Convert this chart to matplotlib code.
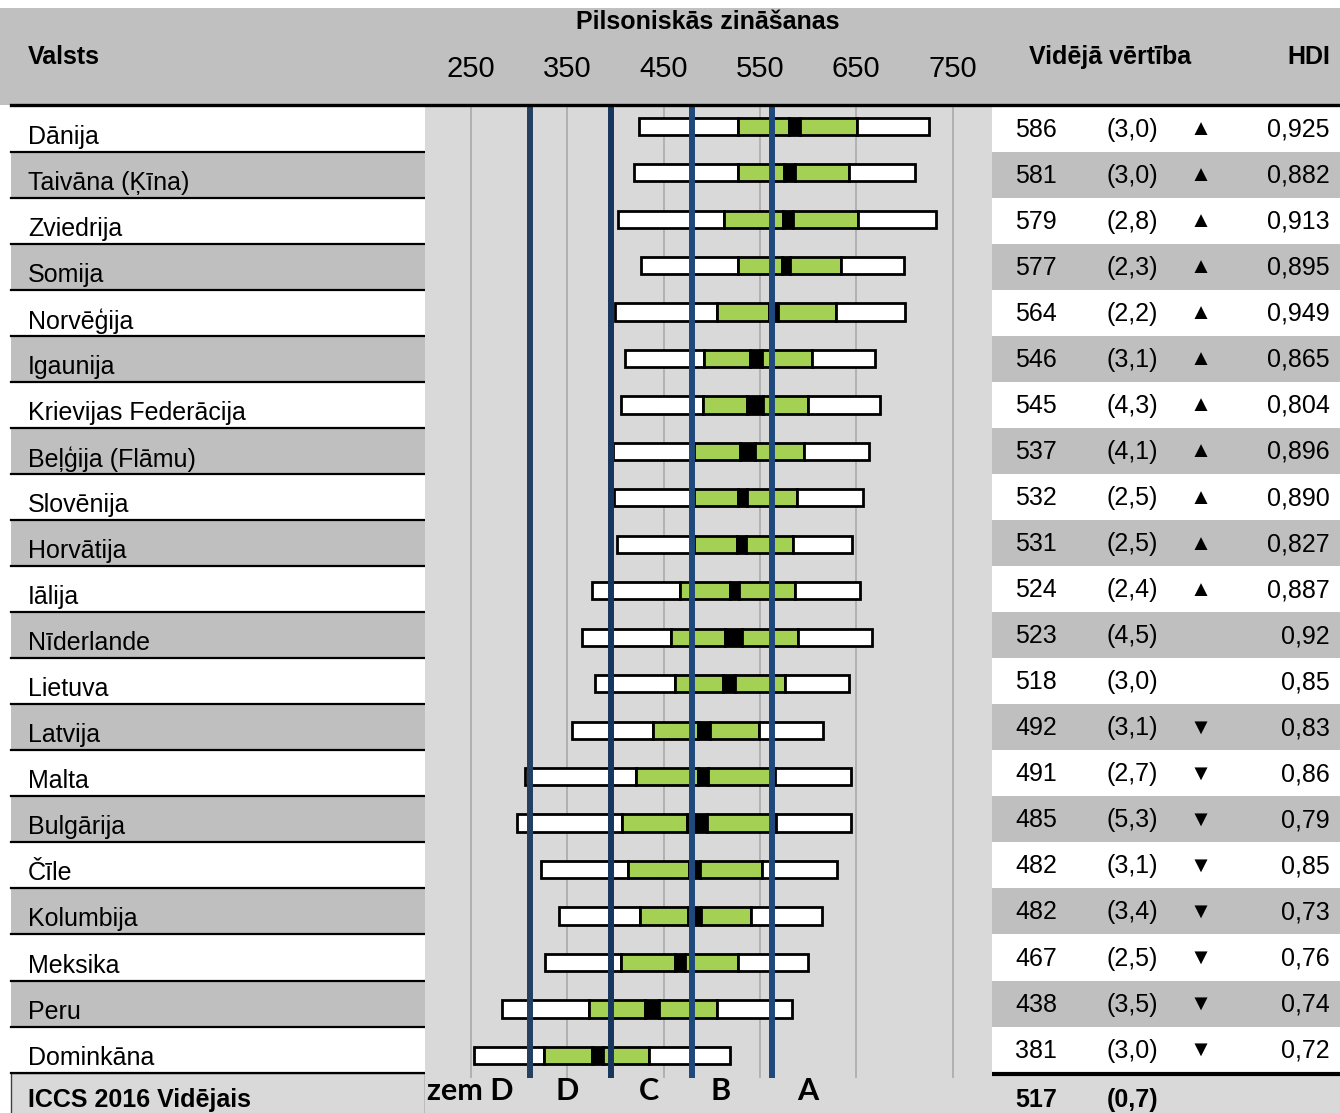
import numpy as np
import matplotlib
matplotlib.use("Agg")
import matplotlib.pyplot as plt
from matplotlib.patches import Rectangle
from matplotlib.lines import Line2D

plt.rcParams['font.family'] = ['Liberation Sans', 'DejaVu Sans']

# data
countries = ['Dānija', 'Taivāna (Ķīna)', 'Zviedrija', 'Somija', 'Norvēģija', 'Igaunija',
             'Krievijas Federācija', 'Beļģija (Flāmu)', 'Slovēnija', 'Horvātija', 'Iālija',
             'Nīderlande', 'Lietuva', 'Latvija', 'Malta', 'Bulgārija', 'Čīle', 'Kolumbija',
             'Meksika', 'Peru', 'Dominkāna']
mean = np.array([586, 581, 579, 577, 564, 546, 545, 537, 532, 531, 524,
                 523, 518, 492, 491, 485, 482, 482, 467, 438, 381])
se = np.array([3.0, 3.0, 2.8, 2.3, 2.2, 3.1, 4.3, 4.1, 2.5, 2.5, 2.4,
               4.5, 3.0, 3.1, 2.7, 5.3, 3.1, 3.4, 2.5, 3.5, 3.0])
p5 = np.array([424, 419, 403, 426, 400, 410, 406, 397, 398, 402, 376,
               365, 379, 355, 306, 298, 323, 341, 327, 282, 253])
p25 = np.array([527, 527, 513, 527, 505, 492, 491, 482, 482, 482, 467,
                458, 462, 439, 421, 407, 413, 425, 406, 372, 326])
p75 = np.array([651, 643, 652, 634, 629, 604, 600, 596, 588, 584, 586,
                590, 576, 549, 566, 567, 552, 541, 527, 505, 435])
p95 = np.array([726, 711, 733, 700, 701, 669, 675, 663, 657, 646, 654,
                666, 642, 615, 645, 645, 630, 614, 600, 583, 519])
trend = ['up'] * 11 + ['', ''] + ['down'] * 8
hdi = ['0,925', '0,882', '0,913', '0,895', '0,949', '0,865', '0,804', '0,896', '0,890',
       '0,827', '0,887', '0,92', '0,85', '0,83', '0,86', '0,79', '0,85', '0,73', '0,76',
       '0,74', '0,72']
ticks = [250, 350, 450, 550, 650, 750]
benchmarks = [311, 395, 479, 563]
bench_colors = ['#243f60', '#17365d', '#1f497d', '#1f497d']
band_labels = ['zem D', 'D', 'C', 'B', 'A']
band_label_x = [249, 350, 435, 509, 600]
avg_mean = 517
avg_se = 0.7

W, H = 1340, 1113
fig = plt.figure(figsize=(W / 100, H / 100), dpi=100)

# background axes in pixel coordinates for the table parts
bg = fig.add_axes([0, 0, 1, 1])
bg.set_xlim(0, W)
bg.set_ylim(H, 0)
bg.axis('off')

GRAY_HEAD = '#c0c0c0'
GRAY_ROW = '#bfbfbf'
GRAY_PLOT = '#d9d9d9'
GREEN = '#a4d153'

bg.add_patch(Rectangle((0, 8), W, 97, color=GRAY_HEAD, lw=0))
row_top = 105.6
row_h = 46.05
n = len(countries)
for i in range(n):
    y0 = row_top + row_h * i
    c = 'white' if i % 2 == 0 else GRAY_ROW
    bg.add_patch(Rectangle((11, y0), 414, row_h, color=c, lw=0))
    bg.add_patch(Rectangle((992, y0), W - 992, row_h, color=c, lw=0))
    bg.plot([11, 425], [y0 + row_h, y0 + row_h], color='black', lw=1.6)
    bg.text(28, y0 + row_h - 15, countries[i], fontsize=18, va='center', ha='left')
    yc = y0 + row_h / 2 + 1
    bg.text(1015, yc, str(mean[i]), fontsize=18, va='center', ha='left')
    bg.text(1107, yc, '(' + f'{se[i]:.1f}'.replace('.', ',') + ')', fontsize=18,
            va='center', ha='left')
    if trend[i] == 'up':
        bg.text(1201, yc, '▲', fontsize=16, va='center', ha='center')
    elif trend[i] == 'down':
        bg.text(1201, yc, '▼', fontsize=16, va='center', ha='center')
    bg.text(1330, yc, hdi[i], fontsize=18, va='center', ha='right')

bottom = row_top + row_h * n
bg.add_patch(Rectangle((992, bottom), W - 992, H - bottom, color=GRAY_PLOT, lw=0))
bg.plot([992, W], [bottom + 1, bottom + 1], color='black', lw=3)
bg.add_patch(Rectangle((11, bottom), 414, H - bottom + 2, facecolor=GRAY_PLOT,
                       edgecolor='#404040', lw=1))
bg.text(28, 1100, 'ICCS 2016 Vidējais', fontsize=18, fontweight='bold', va='center')
bg.text(1015, 1100, str(avg_mean), fontsize=18, fontweight='bold', va='center')
bg.text(1107, 1100, '(' + f'{avg_se:.1f}'.replace('.', ',') + ')', fontsize=18,
        fontweight='bold', va='center')

# header
bg.text(708, 22, 'Pilsoniskās zināšanas', fontsize=18, fontweight='bold',
        ha='center', va='center')
bg.text(28, 57, 'Valsts', fontsize=18, fontweight='bold', va='center')
bg.text(1110, 57, 'Vidējā vērtība', fontsize=18, fontweight='bold', ha='center', va='center')
bg.text(1330, 57, 'HDI', fontsize=18, fontweight='bold', ha='right', va='center')

# bar chart axes
ax = fig.add_axes([425 / W, 0, (992 - 425) / W, (H - 105) / H])
ax.set_facecolor(GRAY_PLOT)
ax.set_xlim(202.2, 791)
ax.set_ylim(21.24, -0.456)
for s in ax.spines.values():
    s.set_visible(False)
ax.set_yticks([])
ax.xaxis.tick_top()
ax.set_xticks(ticks)
ax.set_xticklabels([str(t) for t in ticks], fontsize=21)
ax.tick_params(axis='x', length=0, pad=16)

y = np.arange(n)
grid_bottom = 20.49
ax.vlines(ticks, -0.456, grid_bottom, color='#a6a6a6', lw=1.1, zorder=1)

ci_lo = mean - 1.96 * se
ci_hi = mean + 1.96 * se
lefts = [p5, p25, ci_lo, ci_hi, p75]
rights = [p25, ci_lo, ci_hi, p75, p95]
colors = ['white', GREEN, 'black', GREEN, 'white']
for l, r, c in zip(lefts, rights, colors):
    ax.barh(y, r - l, left=l, height=0.37, color=c, edgecolor='black', lw=2, zorder=2)

for b, c in zip(benchmarks, bench_colors):
    ax.vlines(b, -0.456, grid_bottom, color=c, lw=4.3, zorder=3)

for lab, xv in zip(band_labels, band_label_x):
    ax.text(xv, 20.76, lab, fontsize=22, fontweight='bold', family=['Lato', 'DejaVu Sans'],
            ha='center', va='center')

# thick rule under the header, over everything
fig.add_artist(Line2D([11 / W, 1.0], [1 - 105 / H, 1 - 105 / H], color='black', lw=2.4))

fig.savefig('out.png', dpi=100)
